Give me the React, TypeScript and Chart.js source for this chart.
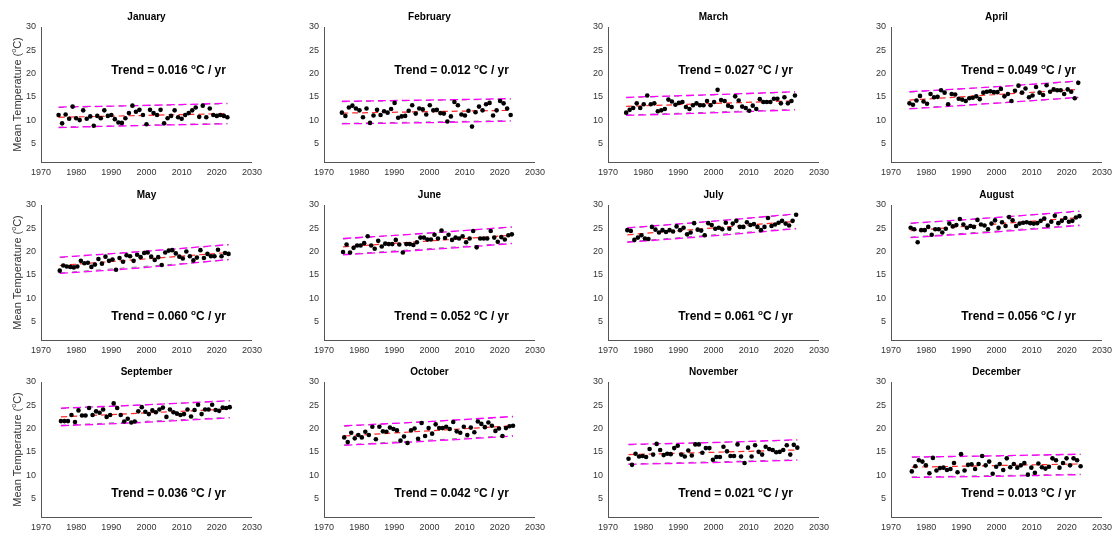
import React, { useEffect, useRef } from 'react';
import { Chart, registerables } from 'chart.js';

Chart.register(...registerables);

const MONTHS = ['January', 'February', 'March', 'April', 'May', 'June', 'July', 'August', 'September', 'October', 'November', 'December'];
const YEARS = Array.from({ length: 49 }, (_, i) => 1975 + i);

const TEMP_JAN = [11.1, 9.3, 11.2, 10.3, 12.9, 10.4, 10.0, 12.1, 10.3, 10.8, 8.8, 10.9, 10.4, 12.1, 10.9, 11.1, 10.2, 9.5, 9.4, 10.4, 11.5, 13.1, 11.8, 12.2, 11.1, 9.1, 12.2, 11.5, 11.1, 12.2, 9.3, 10.4, 10.9, 12.1, 10.6, 10.3, 11.1, 11.5, 12.1, 12.7, 10.7, 13.1, 10.6, 12.5, 11.1, 10.9, 11.1, 10.9, 10.6];
const TEMP_FEB = [11.6, 10.9, 12.7, 13.1, 12.5, 12.1, 10.6, 12.5, 9.4, 11.0, 12.2, 11.1, 11.9, 11.6, 12.4, 13.7, 10.5, 10.8, 10.9, 12.0, 13.2, 11.4, 12.5, 12.3, 11.2, 13.2, 12.1, 12.2, 11.5, 11.4, 9.7, 10.8, 13.9, 13.2, 11.2, 11.0, 12.0, 8.6, 11.7, 12.9, 12.1, 13.4, 13.7, 11.0, 12.1, 14.1, 13.6, 12.5, 11.1];
const TEMP_MAR = [11.6, 12.2, 12.6, 13.6, 12.6, 13.4, 15.3, 13.4, 13.6, 11.9, 12.1, 12.4, 14.4, 14.0, 13.3, 13.7, 13.9, 12.8, 12.4, 13.2, 13.6, 13.2, 13.2, 14.1, 13.2, 13.9, 16.5, 14.3, 14.1, 13.1, 12.8, 15.1, 14.2, 12.9, 12.6, 12.0, 13.1, 12.4, 14.5, 13.9, 13.9, 13.9, 14.6, 14.6, 13.6, 14.9, 13.6, 14.1, 15.3];
const TEMP_APR = [13.6, 13.3, 14.2, 15.2, 14.0, 13.5, 15.6, 14.9, 15.0, 16.4, 15.9, 13.4, 15.6, 15.5, 14.6, 14.4, 14.1, 14.7, 14.8, 15.1, 14.5, 15.9, 16.1, 16.2, 16.0, 16.0, 16.7, 15.1, 15.6, 14.1, 16.3, 17.4, 15.9, 16.8, 14.9, 15.3, 17.1, 15.9, 15.4, 17.5, 16.1, 16.6, 16.4, 16.4, 15.6, 16.6, 16.1, 14.7, 18.0];
const TEMP_MAY = [15.9, 17.0, 16.8, 16.7, 16.6, 16.8, 18.0, 17.5, 17.6, 16.7, 17.2, 18.4, 17.4, 18.9, 18.0, 18.3, 16.1, 18.6, 17.8, 19.2, 19.0, 18.0, 19.3, 18.8, 19.7, 19.8, 18.9, 18.2, 18.8, 17.1, 19.8, 20.2, 20.3, 19.6, 18.9, 18.5, 20.0, 19.0, 18.1, 18.7, 20.3, 18.6, 19.5, 19.0, 19.0, 20.4, 19.0, 19.7, 19.5];
const TEMP_JUN = [19.9, 21.5, 19.8, 20.8, 21.3, 21.3, 21.8, 23.3, 21.3, 20.6, 22.3, 21.1, 21.7, 21.6, 21.6, 22.5, 21.5, 19.8, 21.6, 21.6, 21.4, 22.0, 23.0, 23.0, 22.6, 22.6, 23.6, 22.8, 24.5, 22.9, 23.6, 22.5, 23.0, 22.8, 23.3, 22.0, 22.8, 24.4, 20.9, 22.8, 22.8, 22.8, 24.4, 23.0, 22.1, 23.1, 22.6, 23.5, 23.7];
const TEMP_JUL = [24.6, 24.4, 22.5, 23.0, 23.5, 22.8, 22.7, 25.3, 24.7, 24.1, 24.6, 24.2, 24.6, 24.3, 25.4, 24.6, 25.1, 23.7, 24.1, 26.1, 24.7, 24.5, 23.5, 26.1, 25.7, 24.9, 25.1, 24.8, 26.2, 24.9, 26.0, 26.6, 25.3, 25.3, 26.3, 25.7, 25.9, 25.3, 24.6, 25.3, 27.2, 25.5, 25.8, 26.2, 26.6, 26.0, 25.6, 26.6, 27.9];
const TEMP_AUG = [25.1, 24.8, 22.0, 24.6, 24.6, 25.3, 23.6, 24.8, 24.8, 24.1, 24.9, 26.0, 25.4, 25.7, 27.0, 25.8, 25.1, 25.5, 25.3, 26.8, 25.8, 25.6, 24.8, 26.0, 26.7, 25.1, 26.3, 25.5, 27.4, 26.7, 25.5, 26.0, 26.2, 26.3, 26.1, 26.0, 26.1, 26.6, 27.1, 25.6, 26.4, 27.7, 26.1, 26.6, 27.2, 26.4, 26.6, 27.3, 27.6];
const TEMP_SEP = [21.6, 21.6, 21.6, 22.9, 21.4, 23.9, 22.8, 22.8, 24.4, 22.9, 23.7, 23.4, 24.1, 22.5, 22.9, 25.4, 24.4, 22.9, 21.5, 22.1, 21.3, 21.5, 23.7, 24.6, 23.6, 23.1, 23.9, 23.5, 24.1, 24.5, 22.5, 24.1, 23.5, 23.2, 22.9, 23.1, 24.1, 22.6, 24.0, 25.1, 23.1, 24.1, 24.1, 25.1, 24.0, 23.8, 24.5, 24.4, 24.6];
const TEMP_OCT = [18.1, 17.1, 19.1, 17.9, 18.6, 18.1, 19.3, 18.6, 20.4, 17.7, 20.4, 19.4, 19.3, 20.2, 19.9, 19.6, 17.4, 18.3, 16.9, 19.6, 20.0, 17.8, 21.2, 18.4, 20.1, 18.9, 20.9, 20.1, 20.1, 20.4, 19.9, 21.4, 19.4, 19.1, 20.4, 18.6, 20.2, 19.2, 21.5, 21.0, 20.3, 21.3, 20.6, 19.5, 20.0, 18.4, 20.1, 20.5, 20.6];
const TEMP_NOV = [13.5, 12.2, 14.6, 14.0, 14.1, 13.9, 15.6, 14.4, 16.7, 15.4, 14.3, 14.6, 14.5, 15.8, 16.3, 14.4, 14.0, 15.3, 14.2, 16.6, 16.6, 14.8, 15.8, 15.8, 13.3, 13.9, 13.9, 16.1, 15.1, 14.1, 14.1, 16.6, 14.0, 12.6, 15.9, 14.0, 16.4, 15.0, 14.4, 16.1, 15.6, 15.4, 14.9, 15.0, 15.4, 16.4, 14.4, 16.5, 15.9];
const TEMP_DEC = [10.8, 11.9, 13.2, 12.9, 12.1, 10.4, 13.7, 11.0, 11.5, 11.6, 11.1, 11.3, 12.6, 10.6, 14.5, 11.0, 12.2, 12.3, 11.3, 12.4, 14.1, 12.1, 12.9, 10.3, 11.8, 12.4, 11.1, 13.6, 11.7, 12.4, 11.6, 12.1, 12.6, 10.1, 11.6, 10.5, 12.5, 11.7, 11.4, 11.8, 13.6, 13.2, 11.6, 12.6, 13.6, 12.1, 13.6, 13.2, 11.9];

const TEMPS = [TEMP_JAN, TEMP_FEB, TEMP_MAR, TEMP_APR, TEMP_MAY, TEMP_JUN, TEMP_JUL, TEMP_AUG, TEMP_SEP, TEMP_OCT, TEMP_NOV, TEMP_DEC];

// Trend in degC per year
const TRENDS = [0.016, 0.012, 0.027, 0.049, 0.060, 0.052, 0.061, 0.056, 0.036, 0.042, 0.021, 0.013];

// Fitted trend line [start 1975, end 2023]
const FIT_LINE = [[10.6, 11.4], [11.5, 12.1], [12.95, 14.15], [14.3, 16.6], [17.0, 19.8], [21.0, 23.5], [23.6, 26.5], [24.5, 27.3], [22.5, 24.2], [18.4, 20.6], [14.4, 15.4], [11.7, 12.4]];
// Prediction bounds [1975, 1999, 2023]
const PRED_UPPER = [[12.8, 13.15, 13.6], [14.05, 14.3, 14.6], [14.9, 15.45, 16.1], [16.1, 17.15, 18.4], [18.8, 20.05, 21.5], [22.8, 23.95, 25.3], [25.1, 26.5, 28.1], [26.1, 27.3, 28.7], [24.4, 25.1, 26.0], [20.6, 21.5, 22.6], [16.6, 17.0, 17.6], [13.9, 14.15, 14.5]];
const PRED_LOWER = [[8.4, 8.85, 9.2], [9.2, 9.45, 9.8], [11.0, 11.55, 12.2], [12.4, 13.6, 14.9], [15.3, 16.55, 18.3], [19.3, 20.4, 21.7], [22.0, 23.35, 24.9], [23.0, 24.2, 25.6], [20.6, 21.35, 22.3], [16.4, 17.3, 18.4], [12.3, 12.7, 13.2], [9.5, 9.75, 10.1]];
// Straight bounds [1975, 2023]
const BOUND_UPPER = [[12.7, 13.5], [13.95, 14.5], [14.8, 16.0], [16.0, 18.3], [18.7, 21.4], [22.7, 25.2], [25.0, 28.0], [26.0, 28.6], [24.3, 25.9], [20.5, 22.5], [16.5, 17.5], [13.8, 14.4]];
const BOUND_LOWER = [[8.5, 9.3], [9.3, 9.9], [11.1, 12.3], [12.5, 14.8], [15.4, 18.2], [19.4, 21.8], [22.1, 25.0], [23.1, 25.7], [20.7, 22.4], [16.5, 18.5], [12.4, 13.3], [9.6, 10.2]];

const X_TICKS = [1970, 1980, 1990, 2000, 2010, 2020, 2030];
const Y_TICKS = [5, 10, 15, 20, 25, 30];
const LINE_YEARS_3 = [1975, 1999, 2023];
const LINE_YEARS_2 = [1975, 2023];

// layout
const PLOT_LEFTS = [41, 324, 608, 891];
const PLOT_TOPS = [27, 205, 382];
const PLOT_W = 212;
const PLOT_H = 135;
const YW = 40;
const TOP = 27;
const BOTTOM = 20;
const RP = 14;
const CW = YW + PLOT_W + RP;
const CH = TOP + PLOT_H + BOTTOM;

const FONT = '"Liberation Sans", Arial, Helvetica, sans-serif';
const AXIS_COLOR = '#555555';
const TICK_COLOR = '#333333';

function drawSup(ctx: CanvasRenderingContext2D, before: string, sup: string, after: string, x: number, y: number, size: number, weight: string, align: 'left' | 'center') {
  const mainFont = `${weight} ${size}px ${FONT}`;
  const supSize = Math.round(size * 0.68);
  const supFont = `${weight} ${supSize}px ${FONT}`;
  ctx.font = mainFont;
  const w1 = ctx.measureText(before).width;
  const w3 = ctx.measureText(after).width;
  ctx.font = supFont;
  const w2 = ctx.measureText(sup).width;
  const total = w1 + w2 + w3;
  const sx = align === 'center' ? x - total / 2 : x;
  ctx.textAlign = 'left';
  ctx.textBaseline = 'alphabetic';
  const base = y + size * 0.36;
  ctx.font = mainFont;
  ctx.fillText(before, sx, base);
  ctx.font = supFont;
  ctx.fillText(sup, sx + w1, base - size * 0.42);
  ctx.font = mainFont;
  ctx.fillText(after, sx + w1 + w2, base);
}

const panelTextPlugin = {
  id: 'panelText',
  afterDraw(chart: any, _args: any, opts: any) {
    const { ctx, chartArea, scales } = chart;
    ctx.save();
    ctx.fillStyle = '#000';
    ctx.font = `bold 10px ${FONT}`;
    ctx.textAlign = 'center';
    ctx.textBaseline = 'middle';
    ctx.fillText(opts.title, (chartArea.left + chartArea.right) / 2, chartArea.top - 9.5);

    const tx = scales.x.getPixelForValue(opts.textX);
    const ty = scales.y.getPixelForValue(opts.textY);
    ctx.fillStyle = '#000';
    drawSup(ctx, `Trend = ${opts.trend.toFixed(3)} `, 'o', 'C / yr', tx, ty, 12, 'bold', 'left');

    if (opts.yLabel) {
      ctx.save();
      ctx.translate(chartArea.left - 24, (chartArea.top + chartArea.bottom) / 2);
      ctx.rotate(-Math.PI / 2);
      ctx.fillStyle = '#333';
      drawSup(ctx, 'Mean Temperature (', 'o', 'C)', 0, 0, 11, 'normal', 'center');
      ctx.restore();
    }
    ctx.restore();
  },
};

function makeConfig(m: number): any {
  const off = m / 12;
  const pts = YEARS.map((yr, i) => ({ x: yr + off, y: TEMPS[m][i] }));
  const line2 = (vals: number[]) => LINE_YEARS_2.map((yr, i) => ({ x: yr + off, y: vals[i] }));
  const line3 = (vals: number[]) => LINE_YEARS_3.map((yr, i) => ({ x: yr + off, y: vals[i] }));
  const lineDs = (data: any[], color: string, dash: number[], width: number) => ({
    data,
    showLine: true,
    borderColor: color,
    backgroundColor: color,
    borderDash: dash,
    borderWidth: width,
    pointRadius: 0,
    pointHoverRadius: 0,
    tension: 0.4,
  });
  return {
    type: 'scatter',
    data: {
      datasets: [
        { data: pts, backgroundColor: '#000', borderColor: '#000', pointRadius: 2.3, pointHoverRadius: 2.3, borderWidth: 0 },
        lineDs(line2(FIT_LINE[m]), '#ff2a2a', [6, 4], 1.2),
        lineDs(line3(PRED_UPPER[m]), '#ff00ff', [8, 4], 1.3),
        lineDs(line3(PRED_LOWER[m]), '#ff00ff', [8, 4], 1.3),
        lineDs(line2(BOUND_UPPER[m]), '#555555', [5, 7], 0.8),
        lineDs(line2(BOUND_LOWER[m]), '#555555', [5, 7], 0.8),
      ],
    },
    options: {
      animation: false,
      responsive: false,
      events: [],
      layout: { padding: { top: TOP, right: RP, left: 0, bottom: 0 } },
      plugins: {
        legend: { display: false },
        tooltip: { enabled: false },
        panelText: {
          title: MONTHS[m],
          trend: TRENDS[m],
          textX: 1990,
          textY: m < 4 ? 20.8 : 6.3,
          yLabel: m % 4 === 0,
        },
      },
      scales: {
        x: {
          type: 'linear',
          min: 1970,
          max: 2030,
          grid: { display: false, drawTicks: false },
          border: { display: true, color: AXIS_COLOR, width: 1 },
          ticks: { color: TICK_COLOR, font: { size: 9, family: FONT }, padding: 5, maxRotation: 0, autoSkip: false, callback: (v: any) => String(v) },
          afterBuildTicks: (s: any) => { s.ticks = X_TICKS.map((v) => ({ value: v })); },
          afterFit: (s: any) => { s.height = BOTTOM; },
        },
        y: {
          type: 'linear',
          min: 1,
          max: 30,
          grid: { display: false, drawTicks: false },
          border: { display: true, color: AXIS_COLOR, width: 1 },
          ticks: { color: TICK_COLOR, font: { size: 9, family: FONT }, padding: 5, autoSkip: false, callback: (v: any) => String(v) },
          afterBuildTicks: (s: any) => { s.ticks = Y_TICKS.map((v) => ({ value: v })); },
          afterFit: (s: any) => { s.width = YW; },
        },
      },
    },
    plugins: [panelTextPlugin],
  };
}

function Panel({ m }: { m: number }) {
  const ref = useRef<HTMLCanvasElement>(null);
  useEffect(() => {
    if (!ref.current) return;
    const chart = new Chart(ref.current, makeConfig(m));
    return () => chart.destroy();
  }, [m]);
  const col = m % 4;
  const row = Math.floor(m / 4);
  return (
    <canvas
      ref={ref}
      width={CW}
      height={CH}
      style={{ position: 'absolute', left: PLOT_LEFTS[col] - YW, top: PLOT_TOPS[row] - TOP, width: CW, height: CH }}
    />
  );
}

export default function App() {
  return (
    <div style={{ position: 'fixed', left: 0, top: 0, width: 1116, height: 534, background: '#fff', overflow: 'hidden' }}>
      {MONTHS.map((_, m) => (
        <Panel key={m} m={m} />
      ))}
    </div>
  );
}
